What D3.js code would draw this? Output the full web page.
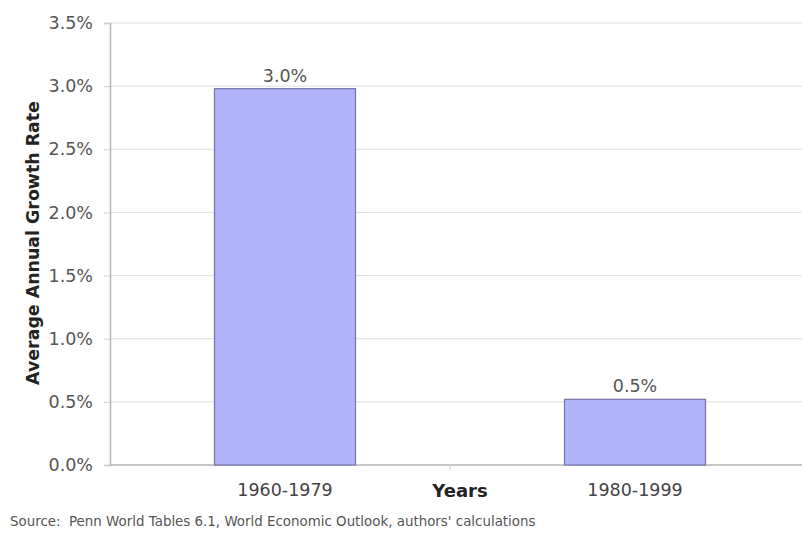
<!DOCTYPE html>
<html><head><meta charset="utf-8">
<script src="https://cdn.jsdelivr.net/npm/d3@7"></script>
<style>body{margin:0;background:#fff;} svg{display:block;}</style>
</head><body>
<svg id="c" width="802" height="536"></svg>
<script>
const categories = ["1960-1979", "1980-1999"];
const values = [2.98, 0.52];
const valueLabels = ["3.0%", "0.5%"];
const yTicks = [0, 0.5, 1.0, 1.5, 2.0, 2.5, 3.0, 3.5];
const yTitle = "Average Annual Growth Rate";
const xTitle = "Years";
const source = "Source:  Penn World Tables 6.1, World Economic Outlook, authors' calculations";

const svg = d3.select("#c");
const font = "DejaVu Sans, Verdana, sans-serif";
const mLeft = 110, mRight = 810, mTop = 23, mBottom = 465;

const x = d3.scaleBand().domain(categories).range([mLeft, mRight]).paddingInner(0.597).paddingOuter(0.2985);
const y = d3.scaleLinear().domain([0, 3.5]).range([mBottom, mTop]);

// gridlines
svg.append("g").selectAll("line").data(yTicks).join("line")
  .attr("x1", mLeft).attr("x2", mRight)
  .attr("y1", d => y(d)).attr("y2", d => y(d))
  .attr("stroke", d => d === 0 ? "#b4b4b4" : "#dedede").attr("stroke-width", d => d === 0 ? 1.5 : 1);

// y axis
const yAxis = svg.append("g").attr("transform", `translate(${mLeft},0)`)
  .call(d3.axisLeft(y).tickValues(yTicks).tickFormat(d => d.toFixed(1) + "%").tickSize(6).tickPadding(11));
yAxis.select(".domain").attr("stroke", "#b4b4b4").attr("stroke-width", 1.5);
yAxis.selectAll(".tick line").attr("stroke", "#d0d0d0");
yAxis.selectAll("text").attr("font-family", font).attr("font-size", 17.5).attr("fill", "#555");

// bars
svg.append("g").selectAll("rect").data(values).join("rect")
  .attr("x", (d, i) => x(categories[i]))
  .attr("width", x.bandwidth())
  .attr("y", d => y(d))
  .attr("height", d => y(0) - y(d))
  .attr("fill", "#b0b3f8").attr("stroke", "#7474a8").attr("stroke-width", 1.2);

// value labels
svg.append("g").selectAll("text").data(values).join("text")
  .attr("x", (d, i) => x(categories[i]) + x.bandwidth() / 2)
  .attr("y", d => y(d) - 7)
  .attr("text-anchor", "middle").attr("font-family", font).attr("font-size", 17.5).attr("fill", "#555")
  .text((d, i) => valueLabels[i]);

// x axis
const xAxis = svg.append("g").attr("transform", `translate(0,${mBottom})`)
  .call(d3.axisBottom(x).tickSize(0).tickPadding(19));
xAxis.select(".domain").remove();
xAxis.selectAll("text").attr("font-family", font).attr("font-size", 17.5).attr("fill", "#444");

// middle tick
svg.append("line").attr("x1", (mLeft + mRight) / 2 - 10).attr("x2", (mLeft + mRight) / 2 - 10)
  .attr("y1", mBottom).attr("y2", mBottom + 5).attr("stroke", "#ccc");

// x title
svg.append("text").attr("x", 460).attr("y", 497).attr("text-anchor", "middle")
  .attr("font-family", font).attr("font-size", 18).attr("font-weight", "bold").attr("fill", "#222").text(xTitle);

// y title
svg.append("text").attr("transform", "translate(39,243) rotate(-90)").attr("text-anchor", "middle")
  .attr("font-family", font).attr("font-size", 17.4).attr("font-weight", "bold").attr("fill", "#222").text(yTitle);

// source
svg.append("text").attr("x", 10).attr("y", 526).attr("xml:space", "preserve").style("white-space", "pre")
  .attr("font-family", font).attr("font-size", 13.4).attr("fill", "#555").text(source);
</script>
</body></html>
